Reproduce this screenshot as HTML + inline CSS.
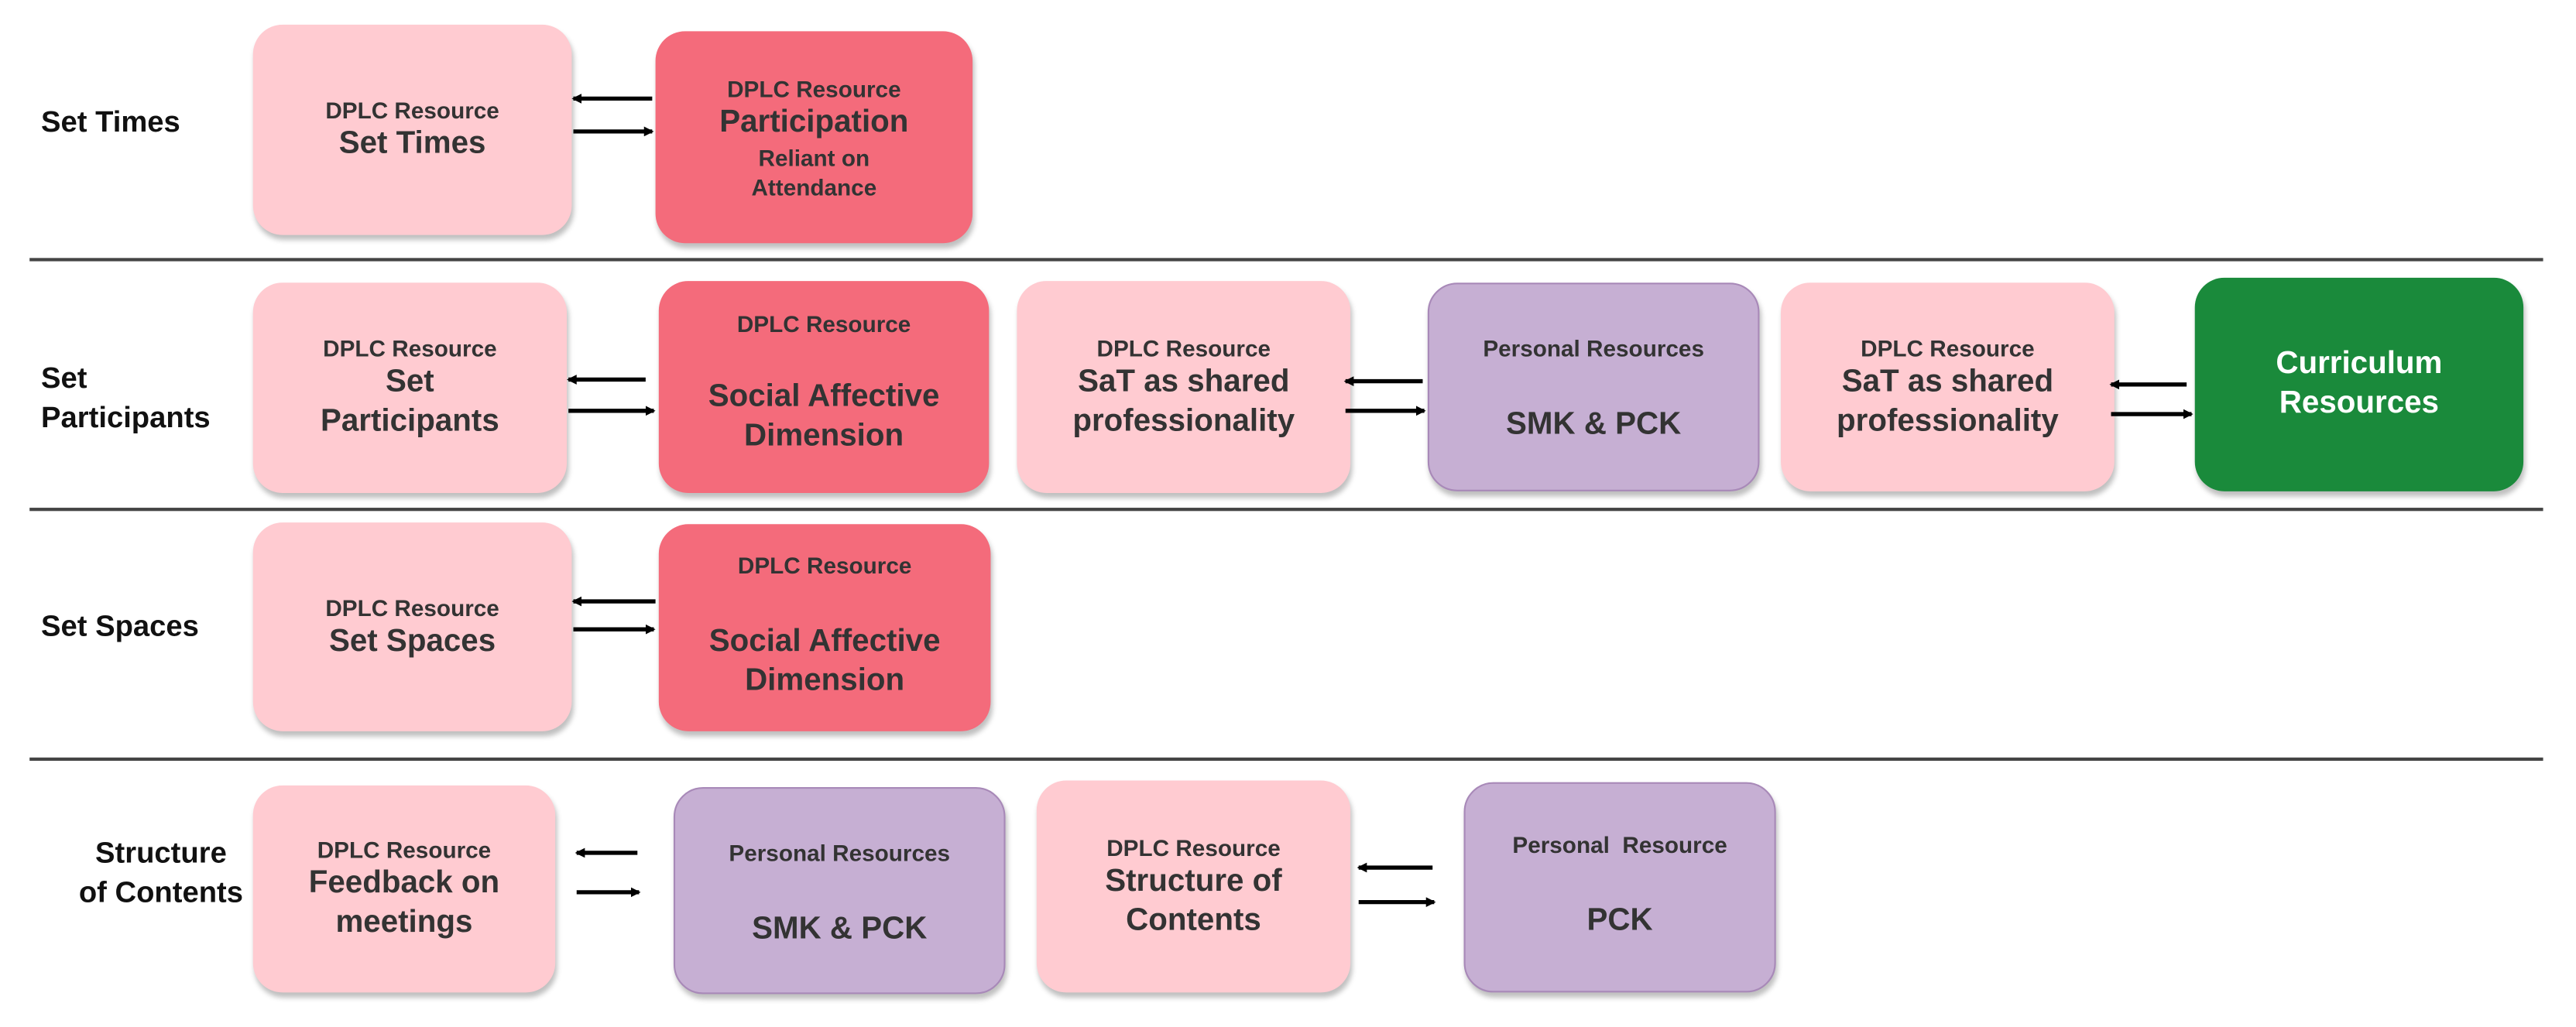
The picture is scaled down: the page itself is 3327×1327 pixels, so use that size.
<!DOCTYPE html>
<html><head><meta charset="utf-8"><style>
html,body{margin:0;padding:0;background:#fff;}
body{width:3327px;height:1327px;overflow:hidden;position:relative;}
#w{position:absolute;left:0;top:0;width:1568px;height:625px;transform:scale(2.1218,2.1232);transform-origin:0 0;font-family:"Liberation Sans",Arial,sans-serif;font-weight:bold;color:#333;}
.b{position:absolute;border-radius:18px;box-shadow:1px 3px 3px rgba(0,0,0,0.25);display:flex;flex-direction:column;align-items:center;justify-content:center;text-align:center;box-sizing:border-box;}
.lp{background:#FFCBD1;}
.rd{background:#F46B7B;}
.pu{background:#C6AFD3;border:1px solid #a889b8;}
.gr{background:#1A8A3B;color:#fff;}
.s{font-size:14px;line-height:18px;}
.L{font-size:19px;line-height:24px;}
.hl{position:absolute;left:18px;width:1530px;height:2px;background:#444;}
.lab{position:absolute;font-size:18px;color:#111;line-height:24px;}
svg{position:absolute;left:0;top:0;}
</style></head><body><div id="w">
<div class="hl" style="top:157px"></div>
<div class="hl" style="top:309px"></div>
<div class="hl" style="top:461px"></div>

<div class="lab" style="left:25px;top:62px">Set Times</div>
<div class="lab" style="left:25px;top:218px">Set<br>Participants</div>
<div class="lab" style="left:25px;top:369px">Set Spaces</div>
<div class="lab" style="left:48px;top:507px;text-align:center">Structure<br>of Contents</div>

<div class="b lp" style="left:154px;top:15px;width:194px;height:128px"><div class="s">DPLC Resource</div><div class="L">Set Times</div></div>
<div class="b rd" style="left:399px;top:19px;width:193px;height:129px"><div class="s">DPLC Resource</div><div class="L">Participation</div><div class="s">Reliant on<br>Attendance</div></div>

<div class="b lp" style="left:154px;top:172px;width:191px;height:128px"><div class="s">DPLC Resource</div><div class="L">Set<br>Participants</div></div>
<div class="b rd" style="left:401px;top:171px;width:201px;height:129px;justify-content:flex-start;padding-top:17px"><div class="s">DPLC Resource</div><div class="L" style="margin-top:24px">Social Affective<br>Dimension</div></div>
<div class="b lp" style="left:619px;top:171px;width:203px;height:129px"><div class="s">DPLC Resource</div><div class="L">SaT as shared<br>professionality</div></div>
<div class="b pu" style="left:869px;top:172px;width:202px;height:127px;justify-content:flex-start;padding-top:30px"><div class="s">Personal Resources</div><div class="L" style="margin-top:26px">SMK &amp; PCK</div></div>
<div class="b lp" style="left:1084px;top:172px;width:203px;height:127px"><div class="s">DPLC Resource</div><div class="L">SaT as shared<br>professionality</div></div>
<div class="b gr" style="left:1336px;top:169px;width:200px;height:130px"><div class="L">Curriculum<br>Resources</div></div>

<div class="b lp" style="left:154px;top:318px;width:194px;height:127px"><div class="s">DPLC Resource</div><div class="L">Set Spaces</div></div>
<div class="b rd" style="left:401px;top:319px;width:202px;height:126px;justify-content:flex-start;padding-top:16px"><div class="s">DPLC Resource</div><div class="L" style="margin-top:26px">Social Affective<br>Dimension</div></div>

<div class="b lp" style="left:154px;top:478px;width:184px;height:126px"><div class="s">DPLC Resource</div><div class="L">Feedback on<br>meetings</div></div>
<div class="b pu" style="left:410px;top:479px;width:202px;height:126px;justify-content:flex-start;padding-top:30px"><div class="s">Personal Resources</div><div class="L" style="margin-top:26px">SMK &amp; PCK</div></div>
<div class="b lp" style="left:631px;top:475px;width:191px;height:129px"><div class="s">DPLC Resource</div><div class="L">Structure of<br>Contents</div></div>
<div class="b pu" style="left:891px;top:476px;width:190px;height:128px;justify-content:flex-start;padding-top:28px"><div class="s">Personal&nbsp; Resource</div><div class="L" style="margin-top:26px">PCK</div></div>

<svg width="1568" height="625" viewBox="0 0 1568 625">
<defs><marker id="a" markerWidth="6" markerHeight="6" refX="5" refY="3" orient="auto" markerUnits="userSpaceOnUse"><path d="M0,0 L6,3 L0,6 z" fill="#000"/></marker></defs>
<g stroke="#000" stroke-width="2.5" marker-end="url(#a)">
<line x1="397" y1="60" x2="349" y2="60"/><line x1="349" y1="80" x2="397" y2="80"/>
<line x1="393" y1="231" x2="346" y2="231"/><line x1="346" y1="250" x2="398" y2="250"/>
<line x1="866" y1="232" x2="819" y2="232"/><line x1="819" y1="250" x2="867" y2="250"/>
<line x1="1331" y1="234" x2="1285" y2="234"/><line x1="1285" y1="252" x2="1334" y2="252"/>
<line x1="399" y1="366" x2="349" y2="366"/><line x1="349" y1="383" x2="398" y2="383"/>
<line x1="388" y1="519" x2="351" y2="519"/><line x1="351" y1="543" x2="389" y2="543"/>
<line x1="872" y1="528" x2="827" y2="528"/><line x1="827" y1="549" x2="873" y2="549"/>
</g></svg>
</div></body></html>
